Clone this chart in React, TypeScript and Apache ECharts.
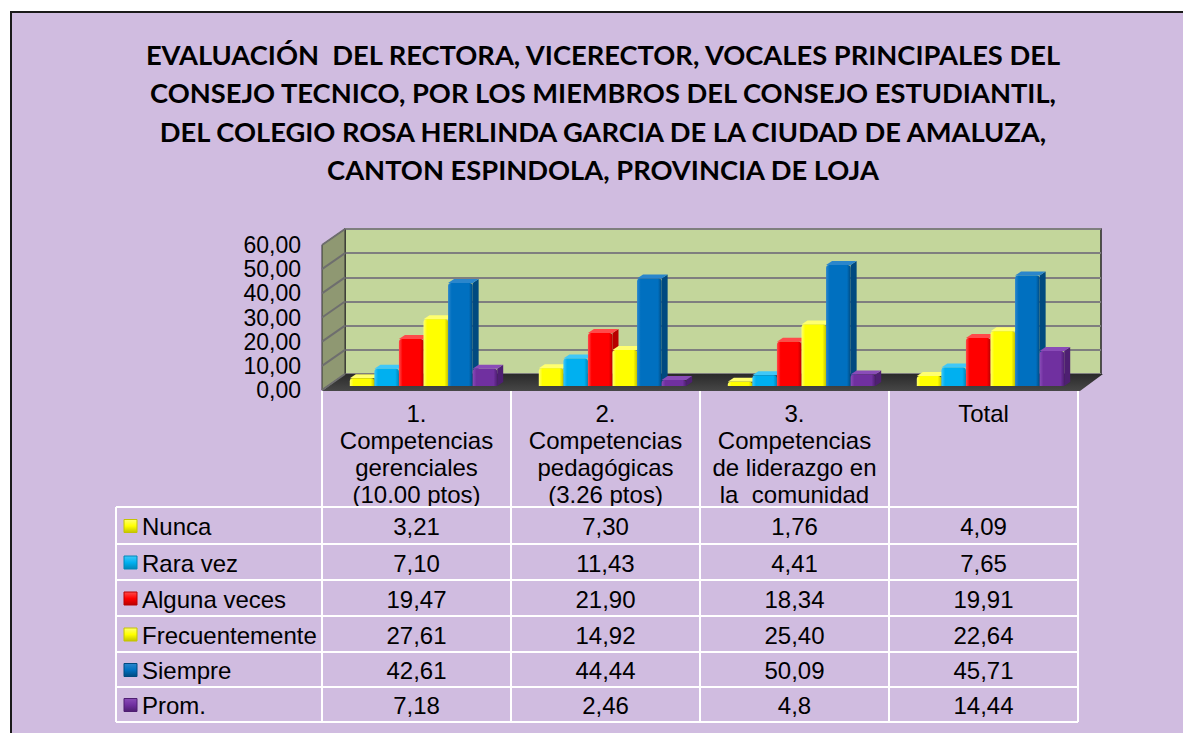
import React, { useEffect, useRef } from "react";
import * as echarts from "echarts";

const titleLines = [
  "EVALUACIÓN  DEL RECTORA, VICERECTOR, VOCALES PRINCIPALES DEL",
  "CONSEJO TECNICO, POR LOS MIEMBROS DEL CONSEJO ESTUDIANTIL,",
  "DEL COLEGIO ROSA HERLINDA GARCIA DE LA CIUDAD DE AMALUZA,",
  "CANTON ESPINDOLA, PROVINCIA DE LOJA",
];

const categories = [
  "1.\nCompetencias\ngerenciales\n(10.00 ptos)",
  "2.\nCompetencias\npedagógicas\n(3.26 ptos)",
  "3.\nCompetencias\nde liderazgo en\nla  comunidad",
  "Total",
];

const seriesNames = ["Nunca", "Rara vez", "Alguna veces", "Frecuentemente", "Siempre", "Prom."];

const nunca = ["3,21", "7,30", "1,76", "4,09"];
const raraVez = ["7,10", "11,43", "4,41", "7,65"];
const algunaVeces = ["19,47", "21,90", "18,34", "19,91"];
const frecuentemente = ["27,61", "14,92", "25,40", "22,64"];
const siempre = ["42,61", "44,44", "50,09", "45,71"];
const prom = ["7,18", "2,46", "4,8", "14,44"];

const yTicks = [0, 10, 20, 30, 40, 50, 60];

const valueRows = [nunca, raraVez, algunaVeces, frecuentemente, siempre, prom];

const frontColors = ["#FFFF00", "#00B0F0", "#FF0000", "#FFFF00", "#0070C0", "#7030A0"];
const sideColors = ["#C4C400", "#0086B8", "#B80000", "#C4C400", "#004A80", "#4E1F72"];
const topColors = ["#FFFF70", "#40C8F8", "#FF4A4A", "#FFFF70", "#2A86CC", "#8A4CB8"];

const parseNum = (s: string) => parseFloat(s.replace(",", "."));

const FONT = "Liberation Sans, Arial, sans-serif";

// layout of the decorative 3D box and table
const frontLeft = 322;
const colW = 189;
const frontTop = 245;
const frontH = 145;
const depthX = 23;
const depthY = 16;
const tableLeft = 116;
const rowTops = [507, 544, 580, 616, 652, 687, 722];

function buildGraphics() {
  const g: any[] = [];
  g.push({
    type: "rect",
    z: -100,
    shape: { x: 11, y: 12, width: 1200, height: 760 },
    style: { fill: "#D0BCE0", stroke: "#1a1a1a", lineWidth: 2 },
  });
  titleLines.forEach((t, i) => {
    g.push({
      type: "text",
      z: 5,
      x: 603,
      y: 54 + i * 38.5,
      style: {
        text: t,
        font: "bold 27.3px Lato, sans-serif",
        fill: "#000",
        textAlign: "center",
        textVerticalAlign: "middle",
      },
    });
  });
  const fb = frontTop + frontH;
  const right = frontLeft + colW * 4;
  // side wall
  g.push({
    type: "polygon",
    z: 1,
    shape: {
      points: [
        [frontLeft, fb],
        [frontLeft, frontTop],
        [frontLeft + depthX, frontTop - depthY],
        [frontLeft + depthX, fb - depthY],
      ],
    },
    style: { fill: "#8F9872", stroke: "#333", lineWidth: 1 },
  });
  // floor
  g.push({
    type: "polygon",
    z: 1,
    shape: {
      points: [
        [frontLeft, fb + 1],
        [right + 2, fb + 1],
        [right + 2 + depthX, fb - depthY],
        [frontLeft + depthX, fb - depthY],
      ],
    },
    style: {
      fill: new echarts.graphic.LinearGradient(0, 0, 0, 1, [
        { offset: 0, color: "#2a2a2a" },
        { offset: 1, color: "#474747" },
      ]),
    },
  });
  // table lines
  const colXs = [0, 1, 2, 3, 4].map((i) => frontLeft + i * colW);
  colXs.forEach((x) => {
    g.push({
      type: "line",
      z: 6,
      shape: { x1: x, y1: fb + 1, x2: x, y2: rowTops[rowTops.length - 1] },
      style: { stroke: "#FFFFFF", lineWidth: 2 },
    });
  });
  g.push({
    type: "line",
    z: 6,
    shape: { x1: tableLeft, y1: rowTops[0], x2: tableLeft, y2: rowTops[rowTops.length - 1] },
    style: { stroke: "#FFFFFF", lineWidth: 2 },
  });
  rowTops.forEach((y) => {
    g.push({
      type: "line",
      z: 6,
      shape: { x1: tableLeft, y1: y, x2: right, y2: y },
      style: { stroke: "#FFFFFF", lineWidth: 2 },
    });
  });
  // table rows
  seriesNames.forEach((name, r) => {
    const cy = (rowTops[r] + rowTops[r + 1]) / 2 + 1;
    g.push({
      type: "rect",
      z: 7,
      shape: { x: 124, y: cy - 7, width: 13, height: 13 },
      style: {
        fill: new echarts.graphic.LinearGradient(0, 0, 0, 1, [
          { offset: 0, color: topColors[r] },
          { offset: 0.5, color: frontColors[r] },
          { offset: 1, color: sideColors[r] },
        ]),
        stroke: sideColors[r],
        lineWidth: 1,
      },
    });
    g.push({
      type: "text",
      z: 7,
      x: 142,
      y: cy,
      style: { text: name, font: `24px ${FONT}`, fill: "#000", textAlign: "left", textVerticalAlign: "middle" },
    });
    valueRows[r].forEach((v, c) => {
      g.push({
        type: "text",
        z: 7,
        x: frontLeft + c * colW + colW / 2,
        y: cy,
        style: { text: v, font: `24px ${FONT}`, fill: "#000", textAlign: "center", textVerticalAlign: "middle" },
      });
    });
  });
  return g;
}

function makeBarSeries(k: number) {
  return {
    type: "custom",
    name: seriesNames[k],
    xAxisIndex: 0,
    yAxisIndex: 0,
    z: 3,
    encode: { x: 0, y: 1 },
    data: valueRows[k].map((s, i) => [i, parseNum(s)]),
    renderItem: (params: any, api: any) => {
      const cat = api.value(0);
      const v = api.value(1);
      const base = api.coord([cat, 0]);
      const top = api.coord([cat, v]);
      const catW = api.size([1, 0])[0];
      const bw = (catW * 0.78) / 6;
      const x0 = base[0] + (k - 3) * bw;
      const x1 = x0 + bw;
      const yb = base[1];
      const yt = top[1];
      const dx = 6;
      const dy = 4;
      return {
        type: "group",
        children: [
          {
            type: "polygon",
            shape: { points: [[x1, yb], [x1, yt], [x1 + dx, yt - dy], [x1 + dx, yb - dy]] },
            style: { fill: sideColors[k] },
          },
          {
            type: "polygon",
            shape: { points: [[x0, yt], [x1, yt], [x1 + dx, yt - dy], [x0 + dx, yt - dy]] },
            style: { fill: topColors[k] },
          },
          {
            type: "rect",
            shape: { x: x0, y: yt, width: bw, height: Math.max(yb - yt, 0.5), r: [3, 3, 0, 0] },
            style: {
              fill: new echarts.graphic.LinearGradient(0, 0, 1, 0, [
                { offset: 0, color: topColors[k] },
                { offset: 0.15, color: frontColors[k] },
                { offset: 0.85, color: frontColors[k] },
                { offset: 1, color: sideColors[k] },
              ]),
            },
          },
        ],
      };
    },
  };
}

export default function App() {
  const ref = useRef<HTMLDivElement>(null);
  useEffect(() => {
    const chart = echarts.init(ref.current!, null, { renderer: "svg" });
    const option: any = {
      animation: false,
      backgroundColor: "#FFFFFF",
      grid: [
        // bar plane
        { left: frontLeft + 7, top: 241, width: colW * 4, height: 145, outerBoundsMode: "none" },
        // front plane (labels)
        { left: frontLeft, top: frontTop, width: colW * 4, height: frontH, outerBoundsMode: "none" },
        // back wall
        {
          left: frontLeft + depthX,
          top: frontTop - depthY,
          width: colW * 4,
          height: frontH,
          show: true,
          backgroundColor: "#C3D69B",
          borderColor: "#262626",
          borderWidth: 1.5,
          outerBoundsMode: "none",
        },
      ],
      xAxis: [
        { type: "category", gridIndex: 0, data: categories, show: false },
        {
          type: "category",
          gridIndex: 1,
          data: categories,
          axisLine: { show: false },
          axisTick: { show: false },
          axisLabel: {
            interval: 0,
            margin: 10,
            fontFamily: FONT,
            fontSize: 24,
            lineHeight: 27,
            color: "#000",
            verticalAlign: "top",
          },
        },
        { type: "category", gridIndex: 2, data: categories, show: false },
      ],
      yAxis: [
        { type: "value", gridIndex: 0, min: 0, max: 60, interval: 10, show: false },
        {
          type: "value",
          gridIndex: 1,
          min: 0,
          max: 60,
          interval: 10,
          axisLine: { show: false },
          axisTick: { show: false },
          splitLine: { show: false },
          axisLabel: {
            margin: 21,
            fontFamily: FONT,
            fontSize: 23,
            color: "#000",
            formatter: (v: number) => v.toFixed(2).replace(".", ","),
          },
        },
        {
          type: "value",
          gridIndex: 2,
          min: 0,
          max: 60,
          interval: 10,
          axisLine: { show: false },
          axisTick: { show: false },
          axisLabel: { show: false },
          splitLine: { show: true, lineStyle: { color: "#7F7F7F", width: 2 } },
        },
      ],
      graphic: buildGraphics(),
      series: [
        {
          type: "custom",
          name: "sidewall-grid",
          xAxisIndex: 2,
          yAxisIndex: 2,
          z: 2,
          silent: true,
          data: yTicks.map((t) => [0, t]),
          renderItem: (params: any, api: any) => {
            const p = api.coord([0, api.value(1)]);
            const xl = p[0] - api.size([1, 0])[0] / 2;
            return {
              type: "line",
              shape: { x1: xl, y1: p[1], x2: xl - depthX, y2: p[1] + depthY },
              style: { stroke: "#6E6E6E", lineWidth: 2 },
            };
          },
        },
        ...seriesNames.map((_, k) => makeBarSeries(k)),
      ],
    };
    chart.setOption(option);
    return () => chart.dispose();
  }, []);
  return (
    <div
      ref={ref}
      style={{ position: "fixed", left: 0, top: 0, width: 1183, height: 733, background: "#fff" }}
    />
  );
}
